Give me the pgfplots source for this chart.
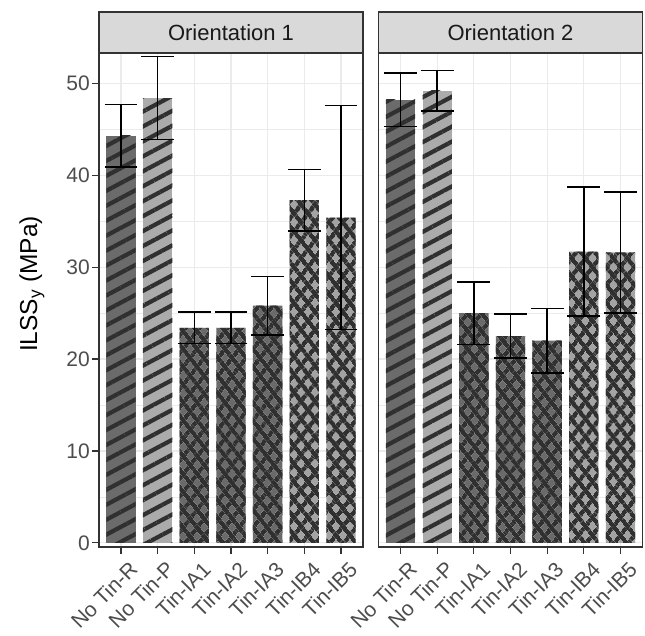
\documentclass[border=0pt]{standalone}
\usepackage{pgfplots}
\pgfplotsset{compat=1.18}
\usetikzlibrary{patterns.meta}
\usepackage{fontspec}
\setmainfont{Liberation Sans}
\definecolor{gridc}{HTML}{EBEBEB}
\definecolor{grey20}{HTML}{333333}
\definecolor{grey30}{HTML}{4D4D4D}
\definecolor{stripc}{HTML}{D9D9D9}
\definecolor{fillR}{HTML}{6B6B6B}
\definecolor{fillP}{HTML}{ABABAB}
\definecolor{fillIA}{HTML}{6A6A6A}
\definecolor{fillIB}{HTML}{A3A3A3}
\definecolor{patc}{HTML}{303030}
\pgfplotsset{
  panel/.style={
    anchor=south west, scale only axis, width=264bp, height=494bp,
    xmin=0.4, xmax=7.6, ymin=-0.45, ymax=53.3,
    xtick={1,...,7},
    xticklabels={No Tin-R, No Tin-P, Tin-IA1, Tin-IA2, Tin-IA3, Tin-IB4, Tin-IB5},
    ytick={0,10,...,50}, minor ytick={5,15,...,55},
    xmajorgrids, ymajorgrids, yminorgrids,
    major grid style={color=gridc, line width=1.1bp},
    minor grid style={color=gridc, line width=0.55bp},
    axis line style={grey20, line width=1.1bp},
    tick align=outside, tick pos=left, major tick length=7bp, minor tick length=0pt,
    tick style={grey20, line width=1.1bp},
    xticklabel style={font=\fontsize{21bp}{23bp}\selectfont, text=grey30, xshift=7bp, yshift=-6bp, rotate=45, anchor=north east, inner sep=0bp},
    yticklabel style={font=\fontsize{21bp}{24bp}\selectfont, text=grey30, inner sep=2bp},
    /pgf/number format/assume math mode=true,
    clip=false,
  },
  stripes/.style={postaction={pattern color=patc, pattern={Lines[angle=28,distance=13.2bp,line width=4.2bp]}}},
  hatch/.style={postaction={pattern color=patc, pattern={Lines[angle=52,distance=11.8bp,line width=5bp]}},
                postaction={pattern color=patc, pattern={Lines[angle=-52,distance=11.8bp,line width=5bp]}}},
  barR/.style={ybar, bar width=0.8, draw=none, fill=fillR, stripes},
  barP/.style={ybar, bar width=0.8, draw=none, fill=fillP, stripes},
  barA/.style={ybar, bar width=0.8, draw=none, fill=fillIA, hatch},
  barB/.style={ybar, bar width=0.8, draw=none, fill=fillIB, hatch},
  eb/.style={draw=none, mark=none, forget plot,
    error bars/.cd, y dir=both, y explicit,
    error bar style={draw=black, line width=1.5bp},
    error mark=|, error mark options={draw=black, line width=1.5bp, mark size=16.4bp}},
}
\begin{document}
\begin{tikzpicture}
\useasboundingbox (0,0) rectangle (645bp,636bp);
\fill[white] (0,0) rectangle (645bp,636bp);
\begin{axis}[panel, at={(99bp,89bp)}]
\addplot[barR] coordinates {(1,44.3)};
\addplot[barP] coordinates {(2,48.4)};
\addplot[barA] coordinates {(3,23.4) (4,23.4) (5,25.8)};
\addplot[barB] coordinates {(6,37.3) (7,35.4)};
\addplot[eb] coordinates {(1,44.3) +- (0,3.4) (2,48.4) +- (0,4.5) (3,23.4) +- (0,1.7) (4,23.4) +- (0,1.7) (5,25.8) +- (0,3.2) (6,37.3) +- (0,3.35) (7,35.4) +- (0,12.2)};
\end{axis}
\begin{axis}[panel, at={(378.5bp,89bp)}, yticklabels={}, every major y tick/.style={draw=none}]
\addplot[barR] coordinates {(1,48.2)};
\addplot[barP] coordinates {(2,49.2)};
\addplot[barA] coordinates {(3,25.0) (4,22.5) (5,22.0)};
\addplot[barB] coordinates {(6,31.7) (7,31.6)};
\addplot[eb] coordinates {(1,48.2) +- (0,2.9) (2,49.2) +- (0,2.2) (3,25.0) +- (0,3.4) (4,22.5) +- (0,2.4) (5,22.0) +- (0,3.5) (6,31.7) +- (0,7.0) (7,31.6) +- (0,6.6)};
\end{axis}
\draw[fill=stripc, draw=grey20, line width=1.1bp] (99bp,583bp) rectangle (363bp,624bp);
\node[text=black!90, font=\fontsize{22bp}{26bp}\selectfont] at (231bp,603.5bp) {Orientation 1};
\draw[fill=stripc, draw=grey20, line width=1.1bp] (378.5bp,583bp) rectangle (642.5bp,624bp);
\node[text=black!90, font=\fontsize{22bp}{26bp}\selectfont] at (510.5bp,603.5bp) {Orientation 2};
\node[rotate=90, font=\fontsize{24.5bp}{27bp}\selectfont] at (32bp,352bp) {ILSS\textsubscript{y} (MPa)};
\end{tikzpicture}
\end{document}
